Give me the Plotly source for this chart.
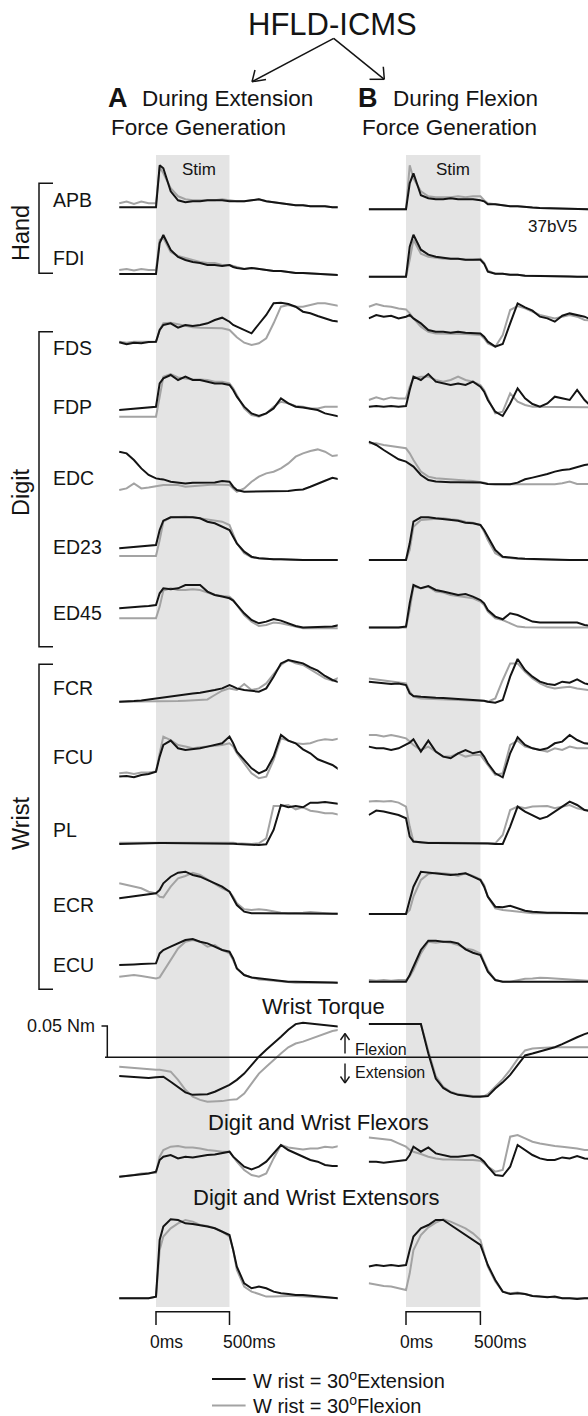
import plotly.graph_objects as go

W, H = 588, 1416

# ---------------- data ----------------
# time grid (ms, stim onset = 0)
T = [-250, -200, -150, -100, -50, 0, 25, 50, 100, 150, 200, 250, 300, 350, 400, 450, 500,
     525, 550, 600, 650, 700, 750, 800, 850, 900, 950, 1000, 1050, 1100, 1150, 1200, 1250]

# EMG (normalized units). _ext = Wrist 30° Extension (black), _flx = Wrist 30° Flexion (gray)
APB_A_ext = [0,0,0,0,0,0,42,39,16,7,5,6,6,7,7,7,6,6,6,6,7,8,6,5,4,3,2,2,1,1,1,0,0]
APB_A_flx = [4,5.7,3.3,5.7,4,4,40,34,19,11,8,7,7,7,7,8,7,7,6,6,7,8,6,5,4,3,2,2,1,1,1,0,0]
APB_B_ext = [0,0,0,0,0,0,26,36,14,11,10,10,11,10,10,10,9,8,5,5,4,3,3,2,1.7,1.3,1,0.7,0.7,0.3,0.3,0,0]
APB_B_flx = [0,0,0,0,0,0,44,31,18,13,12,12,12,13,12,13,13,9,6,5,4,3,3,2,1.7,1.3,1,0.7,0.7,0.3,0.3,0,0]

FDI_A_ext = [0,0,0,0,0,0,31,39,24,17,14,12,11,9,9,8,9,7,6,5,6,5,4,3,3,2,1,1,0.5,0,0,-0.5,-1]
FDI_A_flx = [4,5,3.5,5,4,4,34,36,22,18,16,14,12,11,11,9,9,8,7,5,6,5,4,3,3,2,1,1,0.5,0,0,-0.5,-1]
FDI_B_ext = [0,0,0,0,0,0,30,42,27,22,20,19,18,18,17,17,17,13,5,3,3,2,2,1,1,1,0.7,0.7,0.3,0.3,0,0,0]
FDI_B_flx = [0,0,0,0,0,0,17,37,23,20,19,18,18,18,17,17,18,14,6,3,3,2,2,1,1,1,0.7,0.7,0.3,0.3,0,0,0]

FDS_A_ext = [2.7,0.7,2.3,1.7,3,3.3,15,20,21.7,17.3,20,19,20,21.7,25,27.3,23.3,20,18.3,15,11.7,21,30,41.7,42.3,41,38.3,33.3,31.7,29,26.7,24.3,23.3]
FDS_A_flx = [3.3,2.3,3.3,3.3,3.3,3.3,15,21.7,22.3,21,19,17.7,17.3,17.3,16.7,16.7,15,11.7,7.7,2.3,0,1.7,6.7,21.7,38.3,40,38.3,38.3,40,41.7,41.7,40,39]
FDS_B_ext = [28.3,31.7,30,31,28.3,30,31.7,28.3,23.3,16.7,15,15,14,15,14,14,13.3,10,5,0,2.7,23.3,43.3,39.3,36,30,28.3,25,31,33.3,31.7,30,26.7]
FDS_B_flx = [40,42.7,40.7,40,38.3,37.3,33.3,28.3,20,15,13.3,13.3,13.3,12.7,12.7,12.3,11.7,8.3,3.3,0,11.7,36.7,40.7,38.3,35,31.7,30,28.3,30,31.7,30,26.7,26]

FDP_A_ext = [6.7,7.3,8,8.3,9,10,33.3,38.3,41.7,36.7,40,36.7,36.7,35,33.3,33.3,31.7,26.7,20,10,3.3,0.7,3.3,8.3,18.3,13.3,10,9.3,8.3,6.7,3.3,1.7,0]
FDP_A_flx = [0,0,0,0,0,0,20,40,42.7,39.3,38.3,37.3,37.3,36.7,35,35,33.3,28.3,21.7,8.3,1.7,0,3.3,10,15,13.3,10.7,10,8.3,8.3,10,10,10]
FDP_B_ext = [10,10.7,10,10.7,10,10.7,26.7,40,36.7,42.7,35,33.3,31.7,33.3,31.7,35,30,25,16.7,5,0.7,13.3,28.3,18.3,12.7,10,13.3,20,18.3,16.7,26.7,16.7,9.3]
FDP_B_flx = [16.7,19.3,17.3,19.3,18.3,18.3,30,38.3,40,40,36.7,35,36.7,40,36.7,35,31.7,26.7,18.3,3.3,5,23.3,15,11.7,10,10,9.3,9.3,9.3,9.3,9.3,9.3,9.3]

EDC_A_ext = [41,39.3,32.7,24.3,17.7,14.3,13.7,13.3,11,10,9.3,10,10.3,10,10.3,11.7,11,6,2.7,1,1,1,1,1.7,1,1.7,2.7,3.3,6,9.3,12,15,13.3]
EDC_A_flx = [2.7,4.3,9.3,4.3,5.3,6.7,7.3,7.7,7.7,7.7,6,6.7,7.7,7.7,8.3,8.3,7.7,4.3,1,4.3,11,16,19.3,21,24.3,29.3,36,39.3,41.7,43.3,41,36.7,37.7]
EDC_B_ext = [42.7,39.3,34.3,29.3,25,22.7,20.3,17.7,9.3,4.3,2.7,2,2,2,2,2,1.7,1,0.3,0,0,0,1.7,5,6.7,8.3,10.3,12.7,14.3,15,17,19.3,20.3]
EDC_B_flx = [41,41,39.3,38.3,37.7,36,31,24.3,12.7,7.7,6,5.3,5,4.3,3.7,3.3,2.7,1.7,0.3,0,0,0,0,0,0,0,0,0,1,2.7,0.3,0.3,0.3]

ED23_A_ext = [11.7,12.3,13.3,13.3,14.3,15,30,39.3,42.7,42.7,42.7,42.7,41.7,38.3,36.7,33.3,30,23.3,16.7,8.3,3.3,1.7,1,0.7,0.7,0.3,0.3,0,0,0,0,0,0]
ED23_A_flx = [4,4,4,4,4,4,20,38.3,42.7,43.3,43.3,42.7,41.7,40,39.3,38.3,35,26.7,16.7,6.7,2.7,1.7,1,0.7,0.7,0.3,0.3,0,0,0,0,0,0]
ED23_B_ext = [0,0,0,0,0,0,16.7,38.3,42.7,42.7,41.7,40.7,40,39.3,37.3,36.7,35,30,23.3,10,3.3,2.3,1.7,1.3,1,1,0.7,0.7,0.3,0,0,0,0]
ED23_B_flx = [0,0,0,0,0,0,10,33.3,40,40.7,40.7,41.7,40.7,40,38.3,37.3,35,28.3,20,6.7,2.7,1.7,1.3,1,0.7,0.7,0.3,0.3,0,0,0,0,0]

ED45_A_ext = [20,20.7,21.7,21.7,22.3,23.3,35,40,39,40,43.3,43.3,43.3,36.7,33.3,31.7,30,27.7,23.3,15,8.3,5,6.7,9.3,7.7,5,2.3,0.7,1,1.7,1.3,1.7,3.3]
ED45_A_flx = [10,10,10,10,10,10,21.7,37.7,40,38.3,38.3,39,38.3,35.7,33.3,32.3,31.7,28.3,23.3,13.3,6.7,2.3,3.3,5.7,5,3.3,1.7,0,0,0,0,0,0]
ED45_B_ext = [0.7,0.7,0.7,0.7,0.7,1.7,25,43.3,40,42.3,38.3,36.7,35,33.3,34.3,31.7,28.3,25,18.3,11.7,9,15,13.3,10,6.7,5.7,5.7,5,5.7,5,5.7,3.3,2.3]
ED45_B_flx = [0.7,0.7,0.7,0.7,0.7,0.7,18.3,41.7,40,41.7,36.7,35.7,33.3,32.3,31.7,30,26.7,23.3,16.7,10,8.3,5,1.7,1,0.7,0.7,0.7,0.7,0.7,0.7,0.7,0.7,0.7]

FCR_A_ext = [0,0,0.7,1.3,2.3,3.3,4,5,6,6.7,7.3,8.3,9,10,11.7,13.3,16.7,15,13.3,11.7,11,10,13.3,25,38.3,41.7,40,38.3,34.3,31,25.7,21.7,19]
FCR_A_flx = [0,0,0,0,0,0,0,0,0.3,0.7,1,1.3,1.7,2.3,6.7,11,13.3,12.3,11.7,17.7,11.7,13.3,18.3,27.7,36.7,41.7,38.3,36.7,32.3,28.3,23.3,21,24.3]
FCR_B_ext = [21,20,19.3,18.7,19.3,17.7,9.3,6.7,6,5.3,5,4.7,4.3,4,3.7,3.3,2.7,2,1,0,2.7,26,43.7,32.7,26,21,18.7,17.7,21,20,23.3,19.3,17.7]
FCR_B_flx = [24.3,23.3,22.7,22,21,19.3,11,6,4.3,4,3.7,3.3,3.3,3,2.7,2.3,2,1.7,1,4.3,22.7,39.3,39.3,31,24.3,19.3,16,14.3,15.3,16,14.3,12.7,12]

FCU_A_ext = [2.7,3.3,2,4.3,5.3,7.7,22.7,34.3,38.7,31,29.3,30,31,32.7,34.3,36,42.7,36,27.7,19.3,11,6,9.3,22.7,44.3,38.7,36,30,26,20,17.3,14.3,9.3]
FCU_A_flx = [6,6.7,5.3,6.7,6.7,7.7,26,42.7,39.3,34.3,32.7,31,32,32.7,33.3,34.3,36,32.7,26,16,6,1,2.7,19.3,41,38.7,36,35.3,36,38.7,40,39.3,41]
FCU_B_ext = [31.7,30,30,28.3,30,33.3,35.7,39,26.7,37.7,26.7,21.7,20,25,28.3,25,26.7,21.7,15,5,1,25,41,33.3,30,28.3,30,35,36.7,43.3,38.3,35,34.3]
FCU_B_flx = [43.3,43.3,41.7,43.3,41.7,40,36.7,33.3,28.3,31.7,26.7,21.7,21.7,25,21.7,23.3,23.3,18.3,13.3,3.3,5,33.3,37.7,31.7,30,28.3,26.7,30,28.3,31.7,30,30,30]

PL_A_ext = [1,1.3,1.7,2,2,2.3,2,2,2,2,2,2,2,1.7,1.7,1.7,1.3,1.3,1,1,0.3,0,0.7,15,40,37.7,39,37.7,42.3,42.3,43,42,41]
PL_A_flx = [2.3,2.3,2.3,2.3,2.3,2.3,3,3,3,3,3,3,3,3,3,3,3,2.3,1.7,1,1,1.7,6.7,39,39,40,35.7,37.7,34.3,33.3,31.7,31.7,30]
PL_B_ext = [29.3,33.7,32.7,31,29.3,26,7.7,2.7,1.7,1.3,1.3,1.3,1.3,1.3,1.3,1.3,1.3,1,0.7,0.3,0.3,17.7,37.7,32.7,29.3,25.3,27.7,32.7,37.7,42.7,39.3,34.3,32.7]
PL_B_flx = [42.7,43.3,42.7,43.3,41.7,37.7,17.7,2.7,1.7,1.7,1.7,1.7,1.7,1.7,1.7,1.7,1.7,1.3,1,1,9.3,34.3,37.7,36,37.7,37.7,38.3,36,37.7,39.3,36,34.3,34.3]

ECR_A_ext = [15.7,16.7,18,19,20,20.7,24,30.7,37.3,41.3,42.3,39,37.3,34,30.7,27.3,22.3,15.7,9,2.3,0.7,0.7,0.7,0.7,0.7,0.7,0.7,0.3,0.3,0.3,0.3,0.3,0.3]
ECR_A_flx = [30.7,29,27.3,25.7,22.3,20.7,17.3,16.7,27.3,35.7,38,41.3,39,34.7,30.7,25.7,22.3,17.3,10.7,4.7,4,4.7,4,2.3,1.3,0.7,0.7,1.3,2,1.3,0.7,0.3,0.3]
ECR_B_ext = [0,0,0,0,0,0,14,27.3,42.3,41.3,40.7,40,39,39.7,40.7,37.3,34,27.3,17.3,7.3,6.7,8.3,5.7,3.3,2.3,1.7,1.3,1.3,1,1,0.7,0.7,0.7]
ECR_B_flx = [0,0,0,0,0,0,4,17.3,34,40,41.3,40.7,40,38,40.7,38,34.7,29,17.3,5.7,4,3.3,2.3,1.3,0.7,0.7,0.7,0.7,0.7,0.7,0.7,0.7,0.7]

ECU_A_ext = [17.7,18.3,18.3,18.7,18.7,19.3,29.3,32.7,36,39.3,42.7,43.7,41,39.3,36,32.7,31,24.3,14.3,7.7,5.3,4.3,3.3,2.7,1.7,1,1,1,1,0.7,0.3,0.3,0]
ECU_A_flx = [6,6.7,7.7,6.7,5.3,4.3,5.3,11,22.7,34.3,41,42.7,41,36,37.7,32.7,29.3,22.7,14.3,7.7,5.3,3.3,2.7,2,1,0.3,0,0,0,0,0,0,0]
ECU_B_ext = [1,1,1,1,1,1,7.7,16,32.7,42,42,41,41,39.3,33.3,30,27.7,19.3,11,2.7,1,1,1,1,1,1,1,1,1,1,1,1,1]
ECU_B_flx = [2.7,2,2.7,2,2.7,2.7,6,12.7,29.3,41,40,41,40,37.7,34.3,32.7,29.3,21,12.7,2.7,1,1,2.7,4,4.3,5,4.7,4,3.7,3.3,2.7,2,1.7]

# wrist torque (Nm, flexion positive)
TORQUE_A_ext = [-0.030,-0.031,-0.032,-0.033,-0.033,-0.032,-0.031,-0.031,-0.039,-0.048,-0.056,-0.060,-0.060,-0.059,-0.055,-0.050,-0.044,-0.040,-0.036,-0.026,-0.012,0.001,0.012,0.022,0.033,0.044,0.053,0.055,0.054,0.053,0.051,0.050,0.049]
TORQUE_A_flx = [-0.015,-0.016,-0.018,-0.019,-0.020,-0.020,-0.020,-0.021,-0.023,-0.036,-0.052,-0.063,-0.068,-0.071,-0.071,-0.070,-0.068,-0.068,-0.067,-0.058,-0.042,-0.026,-0.015,-0.004,0.006,0.016,0.022,0.025,0.029,0.033,0.038,0.042,0.044]
TORQUE_B_ext = [0.053,0.053,0.053,0.053,0.053,0.053,0.053,0.053,0.053,0.006,-0.034,-0.049,-0.056,-0.060,-0.062,-0.063,-0.063,-0.063,-0.062,-0.050,-0.040,-0.028,-0.012,0.003,0.006,0.009,0.012,0.016,0.021,0.027,0.032,0.037,0.041]
TORQUE_B_flx = [0.053,0.053,0.053,0.053,0.053,0.053,0.053,0.053,0.053,0.010,-0.030,-0.047,-0.055,-0.059,-0.061,-0.062,-0.062,-0.062,-0.059,-0.047,-0.035,-0.020,-0.003,0.011,0.014,0.015,0.016,0.016,0.016,0.016,0.016,0.016,0.016]

# summed digit & wrist flexors / extensors
FLEX_A_ext = [0,0.7,1.7,2.7,3.3,5,16.7,20,21.7,18.3,20,19.3,20.7,21.7,22.3,23.3,25,20,16.7,10,7.3,10,15,23.3,31.7,26.7,23.3,20,16.7,15,11.7,10.7,10.7]
FLEX_A_flx = [0,0.7,1.7,3.3,3.3,4,20,26.7,30,30.7,29.3,29.3,28.3,26.7,26,25,25,20,15,6.7,1.7,0,3.3,18.3,31.7,29.3,28.3,27.3,28.3,28.3,30,29.3,30.7]
FLEX_B_ext = [15,15,14,15,16,16.7,21.7,30,25,29.3,23.3,21.7,20,20,20.7,21.7,18.3,15,10,1.7,0.7,10,31.7,26.7,21.7,18.3,16.7,16.7,19.3,18.3,20.7,18.3,17.3]
FLEX_B_flx = [39.3,38.3,37.3,36.7,33.3,30,26.7,25,22.7,20,18.3,17.3,17.3,16.7,16.7,16.7,16,13.3,10,5,6.7,40,41.7,38.3,35,33.3,31.7,30.7,30,29.3,28.3,26.7,26.7]

EXT_A_ext = [0,0,0,0,0,1.7,58.3,71.7,79,78.3,75,74.3,73.3,71.7,70,66.7,63.3,48.3,31.7,15,10,11.7,10,6.7,5,4.3,3.3,3.3,2.7,2.3,1.7,1,0]
EXT_A_flx = [0,0,0,0,0,1.7,48.3,61.7,70,75,78.3,76.7,73.3,72.3,70,66.7,61.7,48.3,28.3,11.7,6.7,4.3,1.7,1.7,2.3,2.3,2.3,1.7,1,1,0.7,0.3,0]
EXT_B_ext = [32.7,34.3,33.3,34.3,33.3,34.3,49.3,62.7,71,74.3,79.3,79.3,74.3,69.3,64.3,59.3,54.3,44.3,34.3,19.3,7.7,5.3,6,5.3,3.3,2.7,2,2.7,1,1,0.3,1,1]
EXT_B_flx = [16,14.3,13.3,12.7,11,9.3,26,49.3,64.3,72,76.7,80,77.7,74.3,71,66,59.3,46,32.7,17.7,7.7,6,6.7,5.3,3.3,2.7,2.7,2,1,1,1,1,1]

MUSCLES = ["APB", "FDI", "FDS", "FDP", "EDC", "ED23", "ED45", "FCR", "FCU", "PL", "ECR", "ECU"]
DATA = {
    "APB": ((APB_A_ext, APB_A_flx), (APB_B_ext, APB_B_flx)),
    "FDI": ((FDI_A_ext, FDI_A_flx), (FDI_B_ext, FDI_B_flx)),
    "FDS": ((FDS_A_ext, FDS_A_flx), (FDS_B_ext, FDS_B_flx)),
    "FDP": ((FDP_A_ext, FDP_A_flx), (FDP_B_ext, FDP_B_flx)),
    "EDC": ((EDC_A_ext, EDC_A_flx), (EDC_B_ext, EDC_B_flx)),
    "ED23": ((ED23_A_ext, ED23_A_flx), (ED23_B_ext, ED23_B_flx)),
    "ED45": ((ED45_A_ext, ED45_A_flx), (ED45_B_ext, ED45_B_flx)),
    "FCR": ((FCR_A_ext, FCR_A_flx), (FCR_B_ext, FCR_B_flx)),
    "FCU": ((FCU_A_ext, FCU_A_flx), (FCU_B_ext, FCU_B_flx)),
    "PL": ((PL_A_ext, PL_A_flx), (PL_B_ext, PL_B_flx)),
    "ECR": ((ECR_A_ext, ECR_A_flx), (ECR_B_ext, ECR_B_flx)),
    "ECU": ((ECU_A_ext, ECU_A_flx), (ECU_B_ext, ECU_B_flx)),
    "TORQUE": ((TORQUE_A_ext, TORQUE_A_flx), (TORQUE_B_ext, TORQUE_B_flx)),
    "FLEX": ((FLEX_A_ext, FLEX_A_flx), (FLEX_B_ext, FLEX_B_flx)),
    "EXT": ((EXT_A_ext, EXT_A_flx), (EXT_B_ext, EXT_B_flx)),
}
ROW_ORDER = MUSCLES + ["TORQUE", "FLEX", "EXT"]

# ---------------- layout (pixel placement) ----------------
BASELINE = {  # pixel y of each panel's zero level (col A, col B)
    "APB": (207.3, 209.3), "FDI": (274, 276.7), "FDS": (345, 346.7), "FDP": (416.7, 416.7),
    "EDC": (492.7, 484.3), "ED23": (560, 560), "ED45": (628.3, 628.3), "FCR": (701.7, 702.7),
    "FCU": (779.3, 778.3), "PL": (845, 844.3), "ECR": (914, 914), "ECU": (982.7, 982.7),
    "TORQUE": (1057.3, 1057.3), "FLEX": (1176.7, 1176.7), "EXT": (1298.3, 1299.3),
}
LABEL_Y = {"APB": 200, "FDI": 258, "FDS": 348, "FDP": 407, "EDC": 478, "ED23": 547,
           "ED45": 613, "FCR": 688, "FCU": 757, "PL": 830, "ECR": 905, "ECU": 965}
NM_PER_PX = 0.05 / 31.3

COLS = [  # (pixel of t=0, px per ms, x range)
    (156.0, 0.147, (-262.0, 1236.0)),
    (406.0, 0.1488, (-252.0, (W - 406.0) / 0.1488)),
]
BLACK = "#141414"
GRAY = "#a3a3a3"
SHADE = "#e4e4e4"
FONT = "Liberation Sans, Arial, sans-serif"


def px(x):
    return x / W


def py(y):
    return 1 - y / H


fig = go.Figure()
layout = {}
for ci, (p0, ppm, rng) in enumerate(COLS):
    key = "xaxis" if ci == 0 else "xaxis2"
    d0 = (p0 + ppm * rng[0]) / W
    d1 = min(1.0, (p0 + ppm * rng[1]) / W)
    layout[key] = dict(domain=[d0, d1], range=list(rng), visible=False, fixedrange=True)

k = 0
TORQUE_Y = {}
for row in ROW_ORDER:
    for ci in range(2):
        k += 1
        yname = "y" if k == 1 else f"y{k}"
        ykey = "yaxis" if k == 1 else f"yaxis{k}"
        xname = "x" if ci == 0 else "x2"
        ext, flx = DATA[row][ci]
        fig.add_trace(go.Scatter(x=T, y=flx, xaxis=xname, yaxis=yname, mode="lines",
                                 line=dict(color=GRAY, width=2), showlegend=False,
                                 hoverinfo="skip"))
        fig.add_trace(go.Scatter(x=T, y=ext, xaxis=xname, yaxis=yname, mode="lines",
                                 line=dict(color=BLACK, width=2), showlegend=False,
                                 hoverinfo="skip"))
        y0 = BASELINE[row][ci]
        if row == "TORQUE":
            TORQUE_Y[ci] = yname
            dom = [py(y0 + 60), py(y0 - 60)]
            rng = [-60 * NM_PER_PX, 60 * NM_PER_PX]
        else:
            dom = [py(y0 + 12), py(y0 - 88)]
            rng = [-12, 88]
        layout[ykey] = dict(domain=dom, range=rng, visible=False, anchor=xname, fixedrange=True)

shapes = []
# stimulation windows
for xr in ("x", "x2"):
    shapes.append(dict(type="rect", xref=xr, yref="paper", x0=0, x1=500, y0=py(1307), y1=py(155),
                       fillcolor=SHADE, line=dict(width=0), layer="below"))
    # time scale bar 0-500 ms
    shapes.append(dict(type="path", xref=xr, yref="paper",
                       path=f"M 0,{py(1325)} L 0,{py(1311.7)} L 500,{py(1311.7)} L 500,{py(1325)}",
                       line=dict(color=BLACK, width=1.5)))


def seg(x0, y0, x1, y1, w=1.5, color=BLACK):
    shapes.append(dict(type="line", xref="paper", yref="paper", x0=px(x0), y0=py(y0),
                       x1=px(x1), y1=py(y1), line=dict(color=color, width=w)))


def bracket(ytop, ybot, xv=39, xt=53):
    shapes.append(dict(type="path", xref="paper", yref="paper",
                       path=f"M {px(xt)},{py(ytop)} L {px(xv)},{py(ytop)} L {px(xv)},{py(ybot)} L {px(xt)},{py(ybot)}",
                       line=dict(color=BLACK, width=1.5)))


bracket(183.3, 273.3)
bracket(331.7, 646.7)
bracket(664.3, 989.3)

# HFLD-ICMS arrows
seg(333.7, 38.3, 252, 81.7)
seg(252, 81.7, 255, 70)
seg(252, 81.7, 266, 79.5)
seg(333.7, 38.3, 384.3, 79.3)
seg(384.3, 79.3, 383.3, 66.7)
seg(384.3, 79.3, 369.5, 79.3)

# flexion / extension direction arrows
seg(345, 1033.5, 345, 1053.5, w=1.4)
seg(345, 1033.5, 340.5, 1040, w=1.4)
seg(345, 1033.5, 349.5, 1040, w=1.4)
seg(345, 1063.5, 345, 1083, w=1.4)
seg(345, 1083, 340.5, 1076.5, w=1.4)
seg(345, 1083, 349.5, 1076.5, w=1.4)

# torque zero line and scale bar (in torque units)
shapes.append(dict(type="line", xref="paper", yref=TORQUE_Y[0], x0=px(105), x1=1.0, y0=0, y1=0,
                   line=dict(color=BLACK, width=1.5)))
shapes.append(dict(type="path", xref="paper", yref=TORQUE_Y[0],
                   path=f"M {px(101.5)},0.05 L {px(107.3)},0.05 L {px(107.3)},0",
                   line=dict(color=BLACK, width=1.5)))

# legend lines
seg(212, 1379, 245.6, 1379, w=2, color=BLACK)
seg(212, 1405.5, 245.6, 1405.5, w=2, color=GRAY)

ann = []


def text(t, x, y, size, xanchor="center", bold=False, angle=0):
    ann.append(dict(text=(f"<b>{t}</b>" if bold else t), x=px(x), y=py(y), xref="paper",
                    yref="paper", xanchor=xanchor, yanchor="middle", showarrow=False,
                    textangle=angle, font=dict(size=size, color=BLACK, family=FONT)))


text("HFLD-ICMS", 332, 25, 31)
text("A", 106, 98, 27, xanchor="left", bold=True)
text("During Extension", 139.5, 98, 22.5, xanchor="left")
text("Force Generation", 109, 127, 22.5, xanchor="left")
text("B", 356, 98, 27, xanchor="left", bold=True)
text("During Flexion", 391, 98, 22.5, xanchor="left")
text("Force Generation", 360, 127, 22.5, xanchor="left")
text("Stim", 199, 170, 17)
text("Stim", 453, 170, 17)
text("37bV5", 552.5, 227, 17)
for m in MUSCLES:
    text(m, 51, LABEL_Y[m], 19.5, xanchor="left")
text("Hand", 21, 233, 23.5, angle=-90)
text("Digit", 21, 493, 23.5, angle=-90)
text("Wrist", 21, 823, 23.5, angle=-90)
text("Wrist Torque", 323, 1007, 22)
text("Flexion", 353, 1049, 16, xanchor="left")
text("Extension", 353, 1072, 16, xanchor="left")
text("Digit and Wrist Flexors", 318, 1122, 22)
text("Digit and Wrist Extensors", 316, 1197, 22)
text("W rist = 30<sup>o</sup>Extension", 251, 1379, 20, xanchor="left")
text("W rist = 30<sup>o</sup>Flexion", 251, 1404.5, 20, xanchor="left")

ann.append(dict(text="0.05 Nm", x=px(97), y=0.05, xref="paper", yref=TORQUE_Y[0],
                xanchor="right", yanchor="middle", showarrow=False,
                font=dict(size=18, color=BLACK, family=FONT)))
for xr in ("x", "x2"):
    for tval, lab in ((0, "0ms"), (500, "500ms")):
        ann.append(dict(text=lab, x=tval, y=py(1342), xref=xr, yref="paper", xanchor="left",
                        yanchor="middle", xshift=-8, showarrow=False,
                        font=dict(size=17.5, color=BLACK, family=FONT)))

fig.update_layout(
    width=W, height=H, margin=dict(l=0, r=0, t=0, b=0),
    paper_bgcolor="white", plot_bgcolor="rgba(0,0,0,0)",
    shapes=shapes, annotations=ann, showlegend=False,
    font=dict(family=FONT, color=BLACK),
    **layout,
)
fig.write_html("out.html", config={"displayModeBar": False, "staticPlot": True},
               post_script="document.body.style.margin='0px';document.body.style.overflow='hidden';")
